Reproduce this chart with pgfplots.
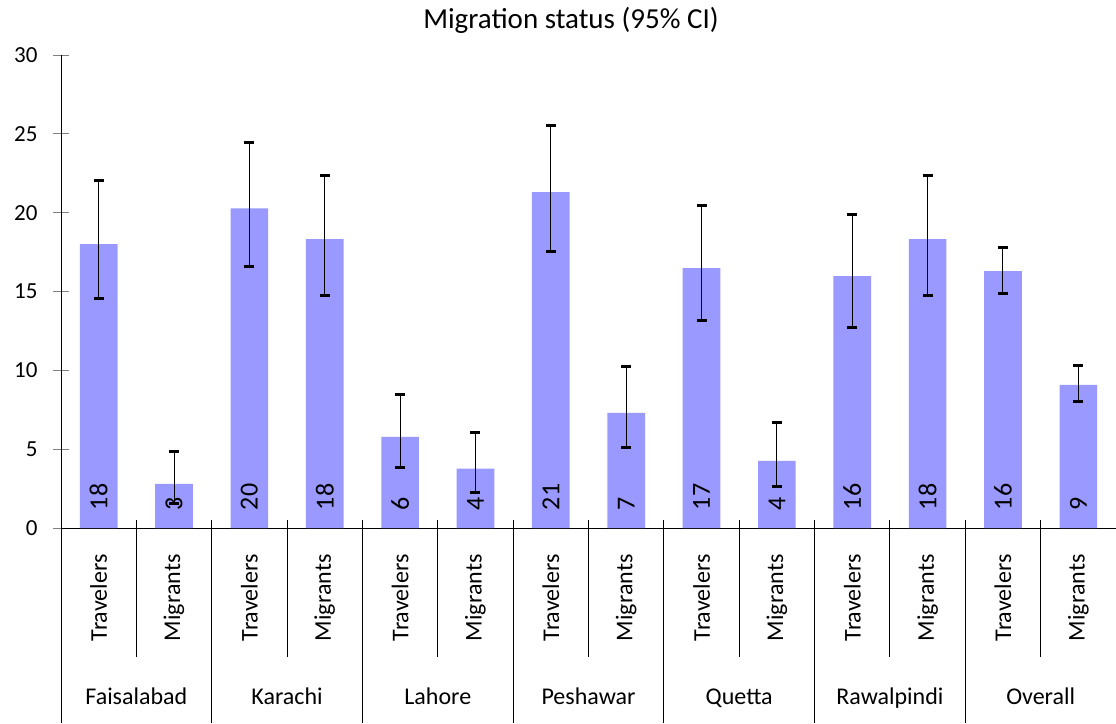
\documentclass[border=0pt]{standalone}
\usepackage{pgfplots}
\usepackage{pgfplotstable}
\pgfplotsset{compat=1.18}
\usepackage{fontspec}
\setmainfont{Carlito}
\definecolor{barc}{HTML}{9999FF}

% x, mean, lower and upper 95% CI, rounded label
\pgfplotstableread{
x  y      lo     hi     lab
0  18.0   14.54  22.06  18
1  2.8    1.58   4.85   3
2  20.28  16.59  24.47  20
3  18.32  14.76  22.33  18
4  5.78   3.86   8.46   6
5  3.76   2.28   6.08   4
6  21.3   17.52  25.52  21
7  7.3    5.09   10.22  7
8  16.49  13.17  20.46  17
9  4.26   2.66   6.69   4
10 15.98  12.73  19.90  16
11 18.32  14.76  22.33  18
12 16.3   14.86  17.81  16
13 9.08   8.00   10.30  9
}\mig

\begin{document}
\begin{tikzpicture}
\begin{axis}[
    scale only axis,
    width=527.5pt, height=236.5pt,
    xmin=-0.5, xmax=13.5,
    ymin=0, ymax=30,
    ytick={0,5,...,30},
    axis lines*=left,
    axis line style={black, line width=0.5pt},
    clip=false,
    xtick={0,...,13},
    xticklabels={Travelers,Migrants,Travelers,Migrants,Travelers,Migrants,Travelers,Migrants,Travelers,Migrants,Travelers,Migrants,Travelers,Migrants},
    major x tick style={draw=none},
    xticklabel style={yshift=-6pt, rotate=90, anchor=east, font=\fontsize{12}{14}\selectfont},
    ytick style={gray, line width=0.5pt},
    tick align=center,
    major tick length=7.5pt,
    yticklabel style={xshift=-4.5pt, font=\fontsize{11.5}{13}\selectfont},
    /pgf/number format/assume math mode=true,
]
\addplot[ybar, bar width=0.5, fill=barc, draw=none,
    error bars/.cd, y dir=both, y explicit,
    error bar style={black, line width=0.5pt},
    error mark options={black, rotate=90, line width=1.5pt, mark size=2.5pt}]
  table[x=x, y=y,
        y error plus expr=\thisrow{hi}-\thisrow{y},
        y error minus expr=\thisrow{y}-\thisrow{lo}] {\mig};
\addplot[draw=none, mark=none,
    point meta=explicit symbolic,
    nodes near coords,
    every node near coord/.style={yshift=8.8pt, rotate=90, anchor=west, inner sep=0pt,
        font=\fontsize{13}{15}\selectfont, black}]
  table[x=x, y expr=0, meta=lab] {\mig};

% separators under the axis
\pgfplotsinvokeforeach{0.5,2.5,4.5,6.5,8.5,10.5,12.5}{
  \draw[black, line width=0.5pt] ([yshift=4pt]axis cs:#1,0) -- ++(0pt,-68.5pt);
}
\pgfplotsinvokeforeach{-0.5,1.5,3.5,5.5,7.5,9.5,11.5}{
  \draw[black, line width=0.5pt] ([yshift=4pt]axis cs:#1,0) -- ++(0pt,-101.5pt);
}
\node[anchor=base, font=\fontsize{12}{14}\selectfont] at ([yshift=-88pt]axis cs:0.5,0) {Faisalabad};
\node[anchor=base, font=\fontsize{12}{14}\selectfont] at ([yshift=-88pt]axis cs:2.5,0) {Karachi};
\node[anchor=base, font=\fontsize{12}{14}\selectfont] at ([yshift=-88pt]axis cs:4.5,0) {Lahore};
\node[anchor=base, font=\fontsize{12}{14}\selectfont] at ([yshift=-88pt]axis cs:6.5,0) {Peshawar};
\node[anchor=base, font=\fontsize{12}{14}\selectfont] at ([yshift=-88pt]axis cs:8.5,0) {Quetta};
\node[anchor=base, font=\fontsize{12}{14}\selectfont] at ([yshift=-88pt]axis cs:10.5,0) {Rawalpindi};
\node[anchor=base, font=\fontsize{12}{14}\selectfont] at ([yshift=-88pt]axis cs:12.5,0) {Overall};
\node[anchor=base, font=\fontsize{14.5}{17}\selectfont] at ([yshift=13.5pt]rel axis cs:0.4834,1) {Migration status (95\% CI)};

\coordinate (bl) at (rel axis cs:0,0);
\coordinate (tr) at (rel axis cs:1,1);
\end{axis}
\pgfresetboundingbox
\useasboundingbox ([xshift=-30.5pt,yshift=-97.5pt]bl) rectangle ([yshift=27.5pt]tr);
\end{tikzpicture}
\end{document}
